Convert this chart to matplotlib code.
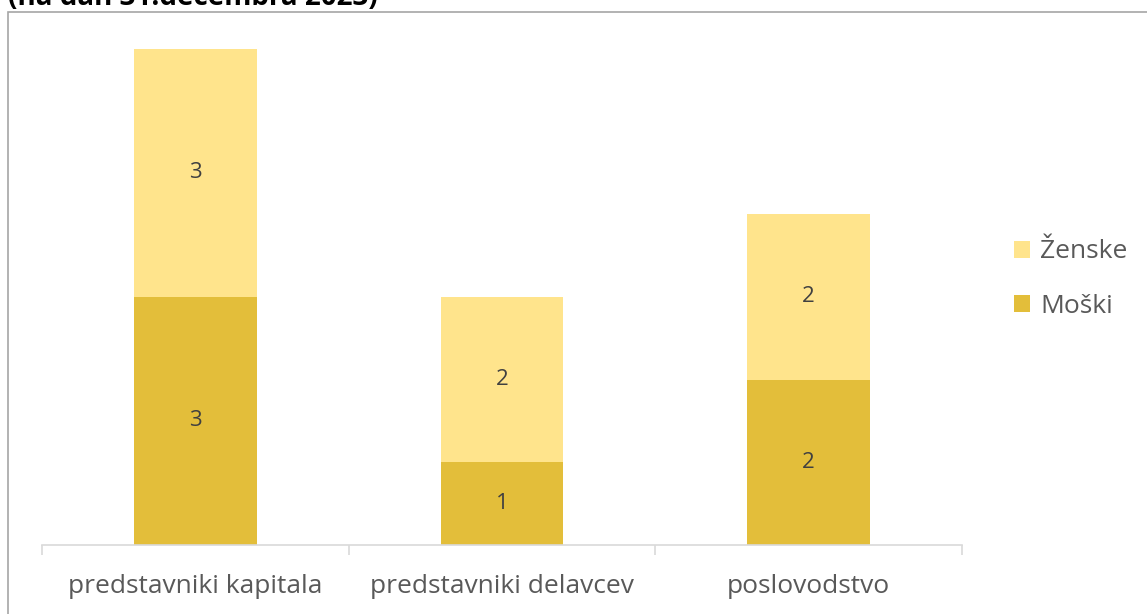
import matplotlib.pyplot as plt
from matplotlib.patches import Rectangle

categories = ['predstavniki kapitala', 'predstavniki delavcev', 'poslovodstvo']
moski = [3, 1, 2]
zenske = [3, 2, 2]

plt.rcParams['font.family'] = ['Open Sans', 'DejaVu Sans']

W, H = 1147, 614
fig = plt.figure(figsize=(W / 100, H / 100), dpi=100)

# outer chart border (cut by the image edge)
fig.patches.append(Rectangle((8 / W, -0.1), 1.2, 1 - 12 / H + 0.1, transform=fig.transFigure,
                             fill=False, edgecolor='#a6a6a6', linewidth=1.2))
fig.text(8 / W, 1 - 5 / H, '(na dan 31.decembra 2023)', fontsize=20, fontweight='bold',
         ha='left', va='baseline', color='black')

ax = fig.add_axes([42 / W, 1 - 545 / H, (962 - 42) / W, (545 - 49) / H])

x = range(len(categories))
ax.bar(x, moski, width=0.4, color='#E3BE3A', label='Moški')
ax.bar(x, zenske, width=0.4, bottom=moski, color='#FFE48C', label='Ženske')

for i in x:
    ax.text(i, moski[i] / 2, str(moski[i]), ha='center', va='center', fontsize=16, color='#404040')
    ax.text(i, moski[i] + zenske[i] / 2, str(zenske[i]), ha='center', va='center', fontsize=16, color='#404040')

ax.set_xlim(-0.5, 2.5)
ax.set_ylim(0, 6)
for s in ['top', 'right', 'left']:
    ax.spines[s].set_visible(False)
ax.spines['bottom'].set_color('#d9d9d9')
ax.spines['bottom'].set_linewidth(1.2)
ax.set_yticks([])
ax.set_xticks([-0.5, 0.5, 1.5, 2.5], minor=False)
ax.set_xticklabels([])
ax.tick_params(axis='x', length=7, color='#d9d9d9', width=1.2)
ax.set_xticks(list(x), minor=True)
ax.set_xticklabels(categories, minor=True, fontsize=19, color='#595959')
ax.tick_params(axis='x', which='minor', length=0, pad=21)

h, l = ax.get_legend_handles_labels()
fig.legend(h[::-1], l[::-1], loc='center left', bbox_to_anchor=(990 / W, 1 - 279 / H),
           frameon=False, fontsize=19, labelcolor='#595959', handlelength=0.6, handleheight=0.6,
           handletextpad=0.4, labelspacing=1.1)

fig.savefig('out.png', dpi=100)
